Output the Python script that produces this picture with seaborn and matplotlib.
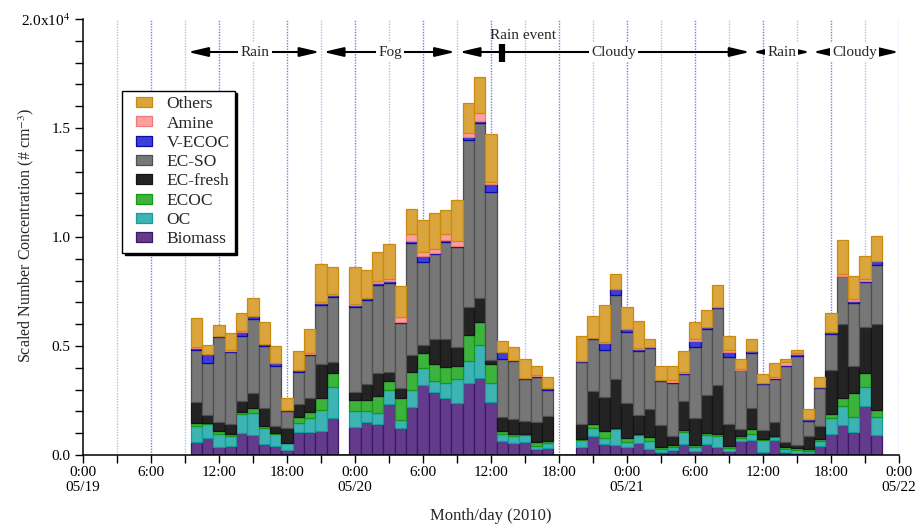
import numpy as np
import pandas as pd
import matplotlib
matplotlib.use("Agg")
import matplotlib.pyplot as plt
import matplotlib.colors as mcolors
from matplotlib.lines import Line2D
from matplotlib.ticker import MultipleLocator, FuncFormatter
import seaborn as sns

# ---------------------------------------------------------------------------
# Hourly samples, hours counted from 05/19 0:00 (2010)
# ---------------------------------------------------------------------------
hours = [10, 11, 12, 13, 14, 15, 16, 17, 18, 19, 20, 21, 22,
         24, 25, 26, 27, 28, 29, 30, 31, 32, 33, 34, 35, 36, 37, 38, 39, 40, 41,
         44, 45, 46, 47, 48, 49, 50, 51, 52, 53, 54, 55, 56, 57, 58, 59, 60, 61,
         62, 63, 64, 65, 66, 67, 68, 69, 70]

# Scaled number concentration (# cm^-3) of each particle class
biomass = [580, 760, 380, 410, 990, 920, 510, 430, 230, 1040, 1040, 1100, 1680,
           1300, 1500, 1420, 2340, 1220, 2220, 3210, 2870, 2630, 2370, 3320, 3520, 2420,
           660, 540, 610, 280, 310,
           350, 890, 510, 460, 380, 540, 260, 150, 230, 490, 200, 490, 350, 200, 660,
           690, 150, 690, 150, 110, 110, 430, 960, 1380, 1070, 2250, 920]
oc = [750, 640, 580, 460, 890, 990, 720, 520, 310, 410, 640, 960, 1420,
      740, 540, 520, 640, 380, 760, 770, 540, 660, 1120, 990, 1530, 900, 310, 310, 310, 150, 260,
      340, 370, 260, 720, 230, 380, 380, 120, 150, 550, 150, 430, 520, 110, 110, 280, 540, 150,
      120, 120, 80, 230, 750, 890, 660, 890, 810]
ecoc = [120, 90, 120, 90, 110, 260, 80, 80, 30, 310, 280, 540, 640,
        490, 490, 760, 430, 1030, 840, 690, 760, 760, 570, 1190, 1070, 840, 150, 120, 50, 180, 50,
        50, 150, 340, 80, 150, 50, 200, 110, 80, 110, 110, 80, 90, 110, 80, 210, 50, 30,
        110, 110, 80, 80, 150, 340, 1100, 640, 340]
ec_fresh = [990, 340, 440, 460, 500, 660, 840, 320, 660, 570, 670, 1580, 540,
            340, 730, 1040, 410, 430, 760, 380, 1130, 1250, 890, 1300, 1070, 200, 640, 690, 600, 920, 1150,
            670, 1540, 1530, 2220, 1610, 870, 1250, 990, 430, 1350, 1220, 1760, 2250, 990, 340, 990, 410, 630,
            230, 120, 580, 600, 2060, 3400, 1250, 2110, 3950]
ec_so = [2370, 2370, 3870, 3290, 2980, 3390, 2870, 2750, 810, 1470, 1960, 2710, 2980,
         3910, 3850, 4080, 4080, 2980, 5150, 3820, 3900, 4480, 4570, 7650, 8030, 7690, 2650, 2630, 1910, 2060, 1220,
         2840, 2350, 2160, 3840, 3290, 2950, 2800, 2020, 2400, 1220, 3260, 3010, 3520, 3100, 2690, 2520, 2090, 1990,
         3490, 4100, 730, 1730, 1650, 2190, 2910, 2060, 2710]
v_ecoc = [120, 430, 60, 80, 180, 150, 60, 110, 30, 80, 50, 80, 80,
          80, 80, 90, 90, 80, 90, 280, 80, 80, 80, 150, 110, 370, 310, 80, 50, 50, 80,
          60, 50, 340, 290, 120, 80, 50, 50, 80, 60, 290, 90, 60, 200, 30, 90, 50, 60,
          30, 80, 60, 50, 50, 30, 90, 50, 150]
amine = [30, 20, 20, 10, 20, 20, 20, 20, 10, 20, 20, 30, 30,
         50, 30, 60, 80, 230, 340, 150, 150, 280, 200, 150, 380, 120, 20, 10, 10, 10, 10,
         20, 20, 30, 20, 20, 20, 20, 20, 60, 20, 80, 20, 20, 110, 20, 10, 10, 10,
         150, 20, 10, 20, 20, 50, 60, 60, 30]
others = [1330, 400, 510, 810, 860, 820, 990, 780, 530, 850, 1100, 1760, 1270,
          1710, 1270, 1350, 1590, 1420, 1120, 1480, 1680, 1100, 1910, 1380, 1610, 2190, 500, 570, 870, 430, 520,
          1140, 1010, 1730, 680, 1000, 1270, 350, 620, 660, 970, 810, 770, 990, 640, 470, 510, 400, 680,
          110, 140, 450, 430, 880, 1600, 1070, 1070, 1120]

# Class names, top of the stack first (same order as the legend)
species = ["Others", "Amine", "V-ECOC", "EC-SO", "EC-fresh", "ECOC", "OC", "Biomass"]
values = [others, amine, v_ecoc, ec_so, ec_fresh, ecoc, oc, biomass]
face_colors = ["#dba53d", "#ff9e9e", "#3d3ddb", "#777777", "#232323", "#3db23d", "#3db3b3", "#643a8c"]
edge_colors = ["#c98a0e", "#f07a7a", "#0b0ba8", "#4f4f4f", "#141414", "#159a15", "#159c9c", "#3b1866"]

# Weather periods along the top: (start hour, end hour, label, label hour)
periods = [(9.25, 20.9, "Rain", 15.2),
           (21.2, 32.85, "Fog", 27.1),
           (33.2, 58.85, "Cloudy", 46.8),
           (59.1, 64.15, "Rain", 61.65),
           (64.4, 72.0, "Cloudy", 68.1)]
rain_event_hour = 37.0

day_labels = ["05/19", "05/20", "05/21", "05/22"]

# ---------------------------------------------------------------------------
records = []
for name, vals in zip(species, values):
    for h, v in zip(hours, vals):
        records.append({"hour": h, "species": name, "value": v})
df = pd.DataFrame(records)

sns.set_style("ticks")
plt.rcParams["font.family"] = ["Liberation Serif", "DejaVu Serif"]
plt.rcParams["mathtext.fontset"] = "stix"

fig = plt.figure(figsize=(9.16, 5.28), dpi=100)
ax = fig.add_axes([83 / 916, 1 - 455 / 528, 816 / 916, 436 / 528])

# Dotted guide lines every 3 hours (stronger at 6-hour marks)
for h in range(3, 73, 3):
    col = "#7a7af0" if h % 6 == 0 else "#b9b9f2"
    ax.axvline(h, color=col, lw=1.0, ls=(0, (1, 1)), zorder=0.5)

palette = dict(zip(species, face_colors))
sns.histplot(data=df, x="hour", weights="value", hue="species", hue_order=species,
             palette=palette, multiple="stack", element="bars",
             discrete=True, shrink=1.0, alpha=1.0,
             linewidth=0.9, legend=False, ax=ax)

# Each class gets a darker outline of its own colour
face_to_edge = {mcolors.to_hex(f): e for f, e in zip(face_colors, edge_colors)}
for cont in ax.containers:
    fc = mcolors.to_hex(cont.patches[0].get_facecolor())
    ec = face_to_edge.get(fc, "k")
    for p in cont.patches:
        p.set_edgecolor(ec)

ax.set_xlim(0, 72)
ax.set_ylim(0, 20000)

for s in ["top", "right"]:
    ax.spines[s].set_visible(False)
for s in ["left", "bottom"]:
    ax.spines[s].set_linewidth(1.1)
    ax.spines[s].set_color("black")

ax.xaxis.set_major_locator(MultipleLocator(6))
ax.xaxis.set_minor_locator(MultipleLocator(3))
ax.yaxis.set_major_locator(MultipleLocator(5000))
ax.yaxis.set_minor_locator(MultipleLocator(1000))


def xfmt(h, pos):
    h = int(round(h))
    if h % 24 == 0:
        return "0:00\n" + day_labels[h // 24]
    return f"{h % 24}:00"


def yfmt(v, pos):
    if abs(v - 20000) < 1:
        return r"2.0x10$^{4}$"
    return f"{v / 1e4:.1f}"


ax.xaxis.set_major_formatter(FuncFormatter(xfmt))
ax.yaxis.set_major_formatter(FuncFormatter(yfmt))
ax.tick_params(axis="both", which="both", direction="out", length=6, width=1.0,
               color="black", labelsize=11, labelcolor="black")
ax.tick_params(axis="x", which="both", pad=2)
ax.tick_params(axis="y", which="both", pad=3)

ax.set_xlabel("Month/day (2010)", fontsize=12, labelpad=10)
ax.set_ylabel("Scaled Number Concentration (# cm$^{-3}$)", fontsize=11.5)
ax.yaxis.set_label_coords(-0.058, 0.505)

# Weather period arrows
arrow_y = 18486
for x0, x1, label, xl in periods:
    ax.annotate("", xy=(x0, arrow_y), xytext=(x1, arrow_y),
                arrowprops=dict(arrowstyle="<|-|>,head_length=1.2,head_width=0.28",
                                color="black", lw=1.5, shrinkA=0, shrinkB=0,
                                mutation_scale=10),
                zorder=5)
    ax.text(xl, arrow_y, label, ha="center", va="center", fontsize=11, zorder=6,
            bbox=dict(boxstyle="square,pad=0.15", fc="white", ec="none"))

ax.vlines(rain_event_hour, 18041, 18853, color="black", lw=4.5, zorder=7)
ax.text(38.85, 19266, "Rain event", ha="center", va="center", fontsize=11, zorder=6)

# Legend
handles = []
rect = [(-1.5, -1), (1.5, -1), (1.5, 1), (-1.5, 1), (-1.5, -1)]
for name, f, e in zip(species, face_colors, edge_colors):
    handles.append(Line2D([], [], ls="none", marker=rect, markersize=11,
                          markerfacecolor=f, markeredgecolor=e, markeredgewidth=0.9,
                          label=name))
leg = ax.legend(handles=handles, loc="upper left",
                bbox_to_anchor=(122.3 / 916, 1 - 90.7 / 528), bbox_transform=fig.transFigure,
                borderaxespad=0, fontsize=12.5, frameon=True, fancybox=False,
                borderpad=0.31, handlelength=1.9, handletextpad=0.34, labelspacing=0.18,
                shadow={"ox": 1.6, "oy": -1.6, "color": "black", "alpha": 1.0})
leg.get_frame().set_edgecolor("black")
leg.get_frame().set_linewidth(1.0)
leg.get_frame().set_alpha(1.0)

fig.savefig("out.png", dpi=100)
